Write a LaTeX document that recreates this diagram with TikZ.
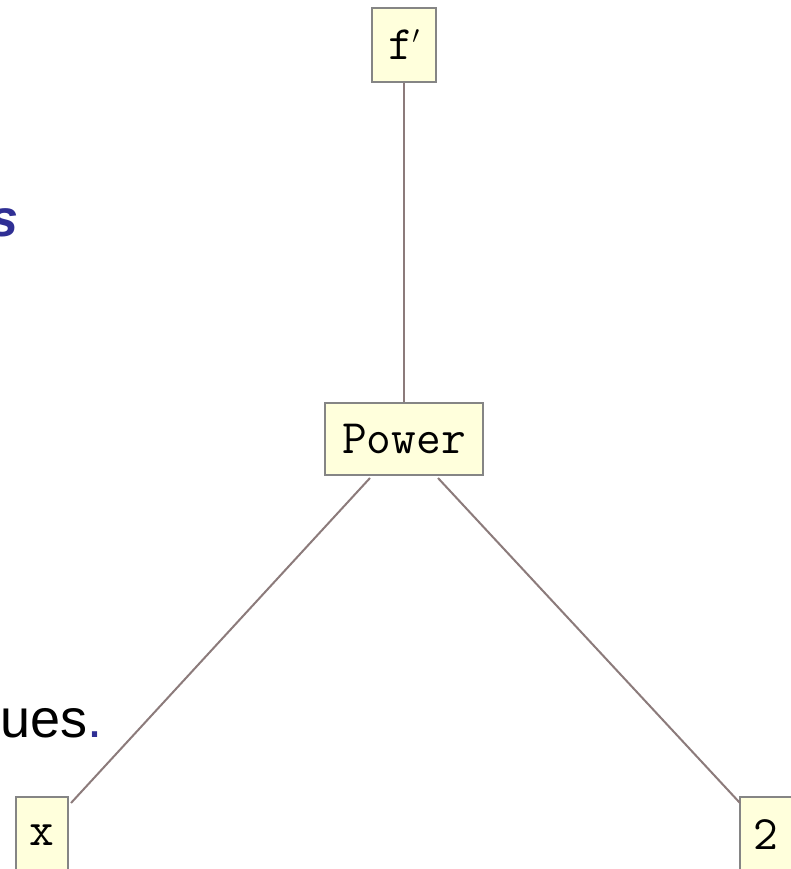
\documentclass[tikz,border=0pt]{standalone}
\usepackage{fontspec}
\setmainfont{Liberation Sans}
\definecolor{boxfill}{HTML}{FFFFDC}
\definecolor{boxline}{HTML}{858585}
\definecolor{edgecol}{HTML}{8C7B7B}
\definecolor{slideblue}{HTML}{2F2F94}
\tikzset{
  termbox/.style={draw=boxline, line width=2pt, fill=boxfill, inner sep=0pt, font=\ttfamily\fontsize{48}{52}\selectfont},
  edge/.style={draw=edgecol, line width=2pt}
}
\begin{document}
\begin{tikzpicture}[x=1pt,y=-1pt]
\useasboundingbox (0,0) rectangle (790,869);
\fill[white] (0,0) rectangle (790,869);
% nodes
\node[termbox, minimum width=64pt, minimum height=74pt] (fp) at (404,45) {f\kern-0.02em\raisebox{0.33em}{$\prime$}};
\node[termbox, minimum width=158pt, minimum height=72pt] (pw) at (404,439) {Power};
\node[termbox, minimum width=52pt, minimum height=76pt] (x) at (42,835) {x};
\node[termbox, minimum width=52pt, minimum height=76pt] (two) at (766,835) {2};
% text fragments
\node[anchor=base east, inner sep=0pt, text=slideblue, font=\bfseries\itshape\fontsize{52}{60}\selectfont] (s) at (19,236) {s};
\node[anchor=base west, inner sep=0pt, font=\fontsize{54}{60}\selectfont] (ues) at (0,737) {ues\textcolor{slideblue}{.}};
% edges
\coordinate (pwl) at (370,478);
\coordinate (pwr) at (438,478);
\coordinate (xtr) at (71,803);
\coordinate (twtl) at (740,803);
\draw[edge] (fp.south) -- (pw.north);
\draw[edge] (pwl) -- (xtr);
\draw[edge] (pwr) -- (twtl);
\end{tikzpicture}
\end{document}
